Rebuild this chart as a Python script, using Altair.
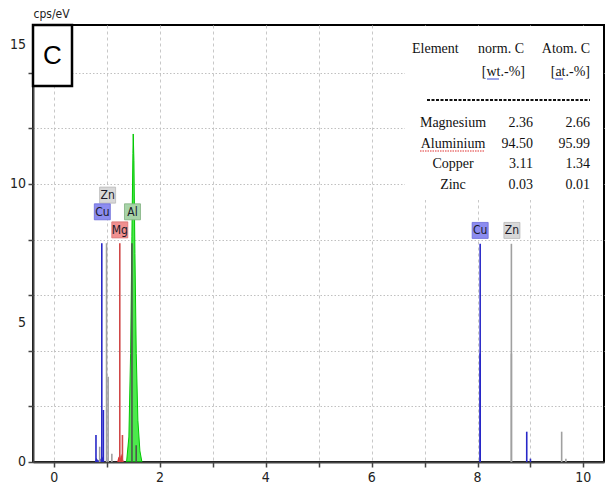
import altair as alt
import pandas as pd

# ---------------- data ----------------
# Element marker lines (keV, cps/eV)
line_element = ["Cu", "Cu", "Cu", "Zn", "Zn", "Zn", "Zn", "Mg", "Mg", "Al", "Al",
                "Cu", "Cu", "Cu", "Cu", "Zn", "Zn", "Zn", "Zn"]
line_energy = [0.79, 0.90, 0.93, 0.86, 0.99, 1.02, 1.09, 1.24, 1.29, 1.47, 1.55,
               8.05, 8.05, 8.93, 9.00, 8.64, 8.64, 9.59, 9.67]
line_height = [0.97, 7.87, 1.87, 0.55, 7.87, 3.07, 0.30, 7.87, 0.97, 7.87, 0.60,
               7.85, 3.90, 1.09, 0.12, 7.85, 3.90, 1.09, 0.12]

# Measured spectrum (Al K peak, filled green)
al_energy = [1.368, 1.412, 1.444, 1.469, 1.488, 1.494, 1.507, 1.526, 1.551, 1.582, 1.620, 1.658]
al_counts = [0.0, 0.9, 3.9, 8.1, 11.1, 11.8, 10.85, 7.5, 3.9, 1.5, 0.4, 0.0]

# small Mg spectrum hump
mg_energy = [1.191, 1.216, 1.241, 1.266, 1.290, 1.316]
mg_counts = [0.0, 0.20, 0.10, 0.30, 0.15, 0.0]

# small Cu spectrum humps
cu_energy = [0.77, 0.80, 0.83, 0.87, 0.91, 0.95]
cu_counts = [0.0, 0.15, 0.05, 0.10, 0.20, 0.0]

# Element label boxes
lab_element = ["Zn", "Cu", "Mg", "Al", "Cu", "Zn"]
lab_energy = [1.01, 0.91, 1.24, 1.48, 8.05, 8.65]
lab_level = [9.6, 9.0, 8.35, 9.0, 8.33, 8.33]

# Quantification table
tab_element = ["Magnesium", "Aluminium", "Copper", "Zinc"]
tab_wt = ["2.36", "94.50", "3.11", "0.03"]
tab_at = ["2.66", "95.99", "1.34", "0.01"]

x_ticks = [i * 0.5 for i in range(0, 21)]
y_ticks = list(range(0, 16))
x_labels = [0, 2, 4, 6, 8, 10]
y_labels = [0, 5, 10, 15]

# ---------------- chart ----------------
W, H = 571, 437
XDOM = [-0.40, 10.39]
YDOM = [0, 15.72]
NARROW = "Liberation Sans Narrow, DejaVu Sans Condensed, Liberation Sans"

el_domain = ["Cu", "Zn", "Mg", "Al"]
line_colors = ["#2828c8", "#a0a0a0", "#d04848", "#4a5a4a"]
box_colors = ["#8c8cf0", "#d8d8d8", "#f09090", "#a8d4a8"]
box_strokes = ["#6a6ad8", "#b8b8b8", "#d87070", "#80b080"]

xs = alt.Scale(domain=XDOM, nice=False, zero=False)
ys = alt.Scale(domain=YDOM, nice=False, zero=False)

xaxis = alt.Axis(values=x_ticks, labels=False, title=None, grid=True, gridDash=[3, 3],
                 gridColor="#c8c8c8", tickSize=5)
yaxis = alt.Axis(values=y_ticks, labels=False,
                 title="cps/eV", titleAngle=0, titleX=0, titleY=-8, titleAlign="left",
                 titleBaseline="alphabetic", titleFontSize=12, titleFontWeight="normal",
                 titleFont=NARROW, titleColor="#222",
                 grid=True, gridDash=[1.5, 2], gridColor="#c0c0c0", tickSize=5)

lines_df = pd.DataFrame({"element": line_element, "energy": line_energy, "cps": line_height})
al_df = pd.DataFrame({"energy": al_energy, "cps": al_counts})
mg_df = pd.DataFrame({"energy": mg_energy, "cps": mg_counts})
cu_df = pd.DataFrame({"energy": cu_energy, "cps": cu_counts})
lab_df = pd.DataFrame({"element": lab_element, "energy": lab_energy, "cps": lab_level})
xlab_df = pd.DataFrame({"energy": x_labels, "cps": [0] * len(x_labels)})
ylab_df = pd.DataFrame({"energy": [XDOM[0]] * len(y_labels), "cps": y_labels})

X = lambda: alt.X("energy:Q", scale=xs)
Y = lambda: alt.Y("cps:Q", scale=ys)

base_axes = alt.Chart(pd.DataFrame({"energy": [0.0], "cps": [0.0]})).mark_point(opacity=0).encode(
    x=alt.X("energy:Q", scale=xs, axis=xaxis),
    y=alt.Y("cps:Q", scale=ys, axis=yaxis),
)

# axis tick labels drawn as text at the tick positions
x_lab_text = alt.Chart(xlab_df).mark_text(font=NARROW, fontSize=14, baseline="top", align="center",
                                          dy=9, color="#222").encode(
    x=X(), y=Y(), text=alt.Text("energy:Q", format="d"))
y_lab_text = alt.Chart(ylab_df).mark_text(font=NARROW, fontSize=14, baseline="middle", align="right",
                                          dx=-7, color="#222").encode(
    x=X(), y=Y(), text=alt.Text("cps:Q", format="d"))

al_area = alt.Chart(al_df).mark_area(color="#00e000", line={"color": "#00c800", "strokeWidth": 1}).encode(
    x=X(), y=Y())
mg_area = alt.Chart(mg_df).mark_area(color="#e03030").encode(x=X(), y=Y())
cu_area = alt.Chart(cu_df).mark_area(color="#3030c0").encode(x=X(), y=Y())

rules = alt.Chart(lines_df).mark_rule(strokeWidth=1.6).encode(
    x=X(), y=Y(), y2=alt.datum(0),
    color=alt.Color("element:N", scale=alt.Scale(domain=el_domain, range=line_colors), legend=None),
)

lab_boxes = alt.Chart(lab_df).mark_rect(width=16, height=16, strokeWidth=0.8, opacity=1).encode(
    x=X(), y=Y(),
    fill=alt.Fill("element:N", scale=alt.Scale(domain=el_domain, range=box_colors), legend=None),
    stroke=alt.Stroke("element:N", scale=alt.Scale(domain=el_domain, range=box_strokes), legend=None),
)
lab_text = alt.Chart(lab_df).mark_text(font=NARROW, fontSize=12, baseline="middle",
                                       align="center", color="#1a1a2a").encode(
    x=X(), y=Y(), text="element:N",
)

one = pd.DataFrame({"a": [0]})

# white panel behind the table (hides the grid there)
table_bg = alt.Chart(one).mark_rect(fill="white").encode(
    x=alt.value(372), x2=alt.value(570), y=alt.value(1), y2=alt.value(175))

# "C" panel box
c_box = alt.Chart(one).mark_rect(fill="white", stroke="black", strokeWidth=2.5).encode(
    x=alt.value(0), x2=alt.value(39), y=alt.value(0), y2=alt.value(61))
c_text = alt.Chart(one).mark_text(font="Liberation Sans", fontSize=26, baseline="middle",
                                  align="center", color="black").encode(
    x=alt.value(19.5), y=alt.value(31), text=alt.value("C"))

# table (pixel positions relative to the plot area)
SERIF = "Liberation Serif"
table_layers = []


def txt(s, px, py, align):
    return alt.Chart(one).mark_text(font=SERIF, fontSize=14, baseline="middle", align=align,
                                    color="#111").encode(
        x=alt.value(px), y=alt.value(py), text=alt.value(s))


table_layers.append(txt("Element", 379, 24, "left"))
table_layers.append(txt("norm. C", 491, 24, "right"))
table_layers.append(txt("Atom. C", 557, 24, "right"))
table_layers.append(txt("[wt.-%]", 492, 47, "right"))
table_layers.append(txt("[at.-%]", 557, 47, "right"))
row0, row_step = 98, 20.5
for i, (e, w, a) in enumerate(zip(tab_element, tab_wt, tab_at)):
    py = row0 + i * row_step
    table_layers.append(txt(e, 420, py, "center"))
    table_layers.append(txt(w, 500, py, "right"))
    table_layers.append(txt(a, 557, py, "right"))

dash_line = alt.Chart(one).mark_rule(color="#111", strokeWidth=2, strokeDash=[3, 1.5]).encode(
    x=alt.value(394), x2=alt.value(557), y=alt.value(75))
ul_wt = alt.Chart(one).mark_rule(color="#3a4ad0", strokeWidth=1).encode(
    x=alt.value(454), x2=alt.value(466), y=alt.value(54))
ul_at = alt.Chart(one).mark_rule(color="#3a4ad0", strokeWidth=1).encode(
    x=alt.value(522), x2=alt.value(530), y=alt.value(54))
ul_al = alt.Chart(one).mark_rule(color="#e03030", strokeWidth=1.2, strokeDash=[1.5, 1]).encode(
    x=alt.value(387), x2=alt.value(452), y=alt.value(126))

chart = alt.layer(
    base_axes, table_bg, cu_area, mg_area, al_area, rules, lab_boxes, lab_text,
    x_lab_text, y_lab_text,
    c_box, c_text, dash_line, ul_wt, ul_at, ul_al, *table_layers
).properties(
    width=W, height=H,
    autosize=alt.AutoSizeParams(type="none"),
    padding={"left": 33, "top": 25, "right": 3, "bottom": 29},
    background="white",
).configure_view(
    stroke="black", strokeWidth=2
).configure_axis(
    domainColor="#444", domainWidth=2, tickColor="#444", tickWidth=1.5,
)

chart.save("out.html", embed_options={"renderer": "svg", "actions": False})
